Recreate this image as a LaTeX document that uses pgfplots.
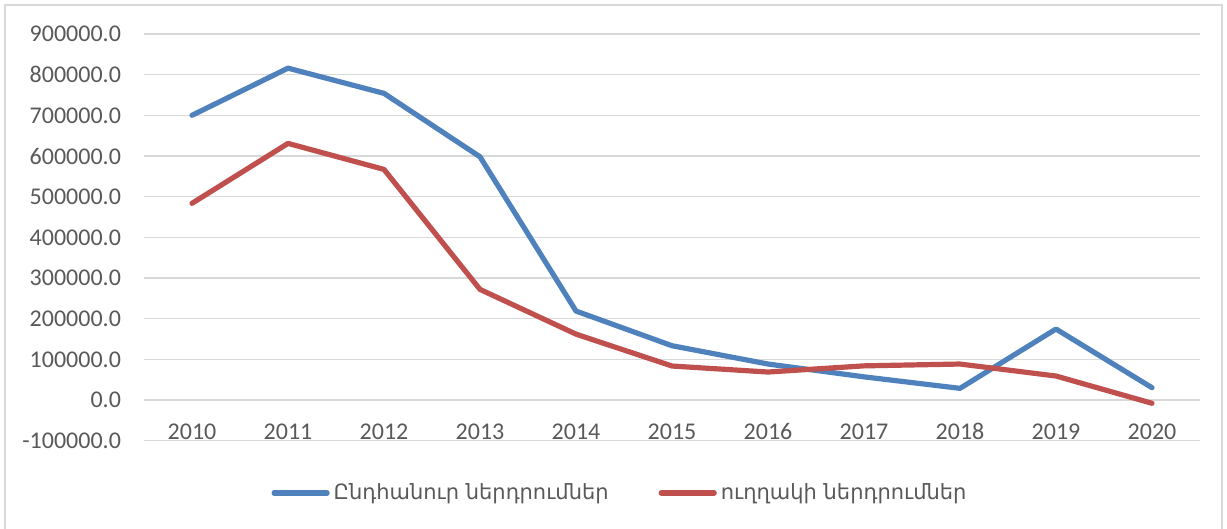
\documentclass[border=0pt]{standalone}
\usepackage{pgfplots}
\pgfplotsset{compat=1.18}
\usepackage{fontspec}
\setmainfont{Carlito}
\newfontfamily\armfont{DejaVu Sans}
\definecolor{tickgray}{HTML}{595959}
\definecolor{gridgray}{HTML}{D9D9D9}
\definecolor{sblue}{HTML}{4F81BD}
\definecolor{sred}{HTML}{C0504D}
\begin{document}
\begin{tikzpicture}
\useasboundingbox (0pt,0pt) rectangle (613.5pt,264.5pt);
\draw[gridgray, line width=0.8pt] (2.5pt,-10pt) rectangle (611pt,262pt);
\begin{axis}[
  at={(72pt,44.15pt)}, anchor=south west,
  scale only axis, width=528pt, height=203.35pt,
  xmin=-0.5, xmax=10.5, ymin=-100000, ymax=900000,
  axis line style={draw=none},
  major tick length=0pt,
  xtick={0,...,10},
  xticklabels={2010,2011,2012,2013,2014,2015,2016,2017,2018,2019,2020},
  ytick={-100000,0,100000,200000,300000,400000,500000,600000,700000,800000,900000},
  ymajorgrids, grid style={gridgray, line width=0.7pt},
  scaled y ticks=false,
  /pgf/number format/.cd, fixed, fixed zerofill, precision=1, 1000 sep={}, assume math mode=true,
  /pgfplots/.cd,
  yticklabel style={font=\fontsize{12}{14}\selectfont, text=tickgray, xshift=-8pt},
  xticklabel style={font=\fontsize{12}{14}\selectfont, text=tickgray, anchor=center, yshift=4.5pt},
  legend columns=2,
  legend style={at={(axis description cs:0.4517,-0.1286)}, anchor=center, draw=none, fill=none,
    font=\armfont\fontsize{10.5}{12}\selectfont, text=tickgray,
    /tikz/every even column/.append style={column sep=23pt}},
  legend image code/.code={\draw[#1, line cap=round] (0pt,0pt) -- (26.5pt,0pt);},
  every axis plot/.append style={line width=2.6pt, line join=round, line cap=round},
]
\addplot[sblue] coordinates {(0,700000) (1,816000) (2,754000) (3,598000) (4,218800) (5,133500) (6,88500) (7,57000) (8,28700) (9,174600) (10,30300)};
\addlegendentry{Ընդհանուր ներդրումներ}
\addplot[sred] coordinates {(0,483600) (1,631000) (2,567000) (3,272000) (4,162000) (5,83600) (6,68800) (7,84000) (8,88500) (9,59000) (10,-8000)};
\addlegendentry{ուղղակի ներդրումներ}
\end{axis}
\end{tikzpicture}
\end{document}
